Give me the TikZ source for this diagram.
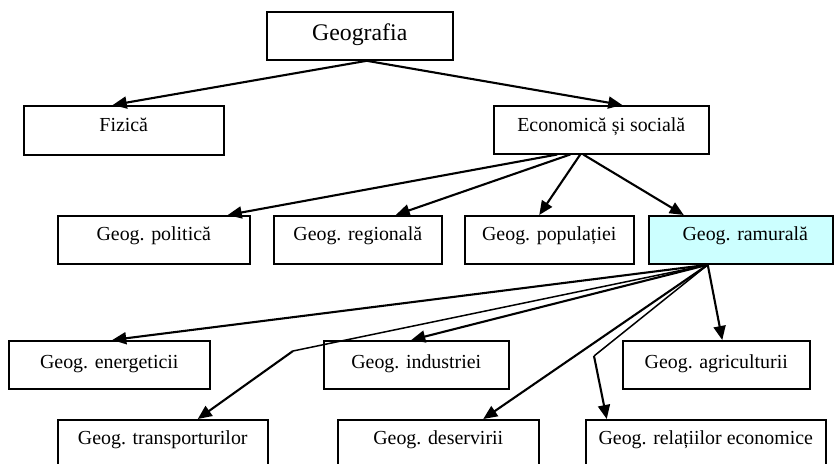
\documentclass[tikz,border=0pt]{standalone}
\usepackage{fontspec}
\setmainfont{Liberation Serif}
\usetikzlibrary{arrows.meta,calc}
\begin{document}
\begin{tikzpicture}[x=1pt,y=-1pt,
  box/.style={draw, line width=1.5pt, inner sep=0pt, anchor=north west,
    font=\fontsize{19.9}{24}\selectfont},
  rowa/.style={text height=24.3pt, text depth=24pt},
  rowb/.style={text height=27.3pt, text depth=21pt},
  arr/.style={line width=2.1pt, -{Triangle[length=14pt,width=12pt]}},
  thinseg/.style={line width=1.5pt}]
\useasboundingbox (0,0) rectangle (834,463);
\clip (0,0) rectangle (834,463);
% boxes
\node[box, minimum width=186pt, text height=28.3pt, text depth=20pt,
  font=\fontsize{23.8}{28}\selectfont] (geo) at (266,11) {Geografia};
\node[box, minimum width=200pt, text height=25.7pt, text depth=23.3pt] (fiz) at (23,105) {Fizică};
\node[box, minimum width=215pt, text height=25.7pt, text depth=22.3pt] (eco) at (493,105) {Economică și socială};
\node[box, rowa, minimum width=192pt] (pol) at (57,215) {Geog. politică};
\node[box, rowa, minimum width=168pt] (reg) at (273,215) {Geog. regională};
\node[box, rowa, minimum width=169pt] (pop) at (464,215) {Geog. populației};
\node[box, rowa, minimum width=184pt, fill={rgb,255:red,204;green,255;blue,255}] (ram) at (648,215) {\hspace*{9pt}Geog. ramurală};
\node[box, rowb, minimum width=201pt] (ene) at (8,340) {Geog. energeticii};
\node[box, rowb, minimum width=185pt] (ind) at (323,340) {Geog. industriei};
\node[box, rowb, minimum width=187pt] (agr) at (622,340) {Geog. agriculturii};
\node[box, rowa, minimum width=210pt] (tra) at (57,419) {Geog. transporturilor};
\node[box, rowa, minimum width=201pt] (des) at (337,419) {Geog. deservirii};
\node[box, rowa, minimum width=240pt] (rel) at (585,419) {Geog. relațiilor economice};
% bend points
\coordinate (btra) at (293,351);
\coordinate (brel) at (594,356);
% connectors
\draw[arr] ($(geo.south)+(7,0)$) -- ($(fiz.north)+(-11,0)$);
\draw[arr] ($(geo.south)+(7,0)$) -- ($(eco.north)+(21,0)$);
\draw[arr] ($(eco.south)+(-44,0)$) -- ($(pol.north)+(74,0)$);
\draw[arr] ($(eco.south)+(-31,0)$) -- ($(reg.north)+(38,0)$);
\draw[arr] ($(eco.south)+(-21,0)$) -- ($(pop.north)+(-10,0)$);
\draw[arr] ($(eco.south)+(-18,0)$) -- ($(ram.north)+(-57,0)$);
\draw[arr] ($(ram.south)+(-33,0)$) -- ($(ene.north)+(3,0)$);
\draw[thinseg] ($(ram.south)+(-33,0)$) -- (btra);
\draw[arr] (btra) -- ($(tra.north)+(35,0)$);
\draw[arr] ($(ram.south)+(-33,0)$) -- ($(ind.north)+(-5,0)$);
\draw[arr] ($(ram.south)+(-33,0)$) -- ($(des.north)+(45,0)$);
\draw[thinseg] ($(ram.south)+(-33,0)$) -- (brel);
\draw[arr] (brel) -- ($(rel.north)+(-99,0)$);
\draw[arr] ($(ram.south)+(-33,0)$) -- ($(agr.north)+(6,0)$);
\end{tikzpicture}
\end{document}
